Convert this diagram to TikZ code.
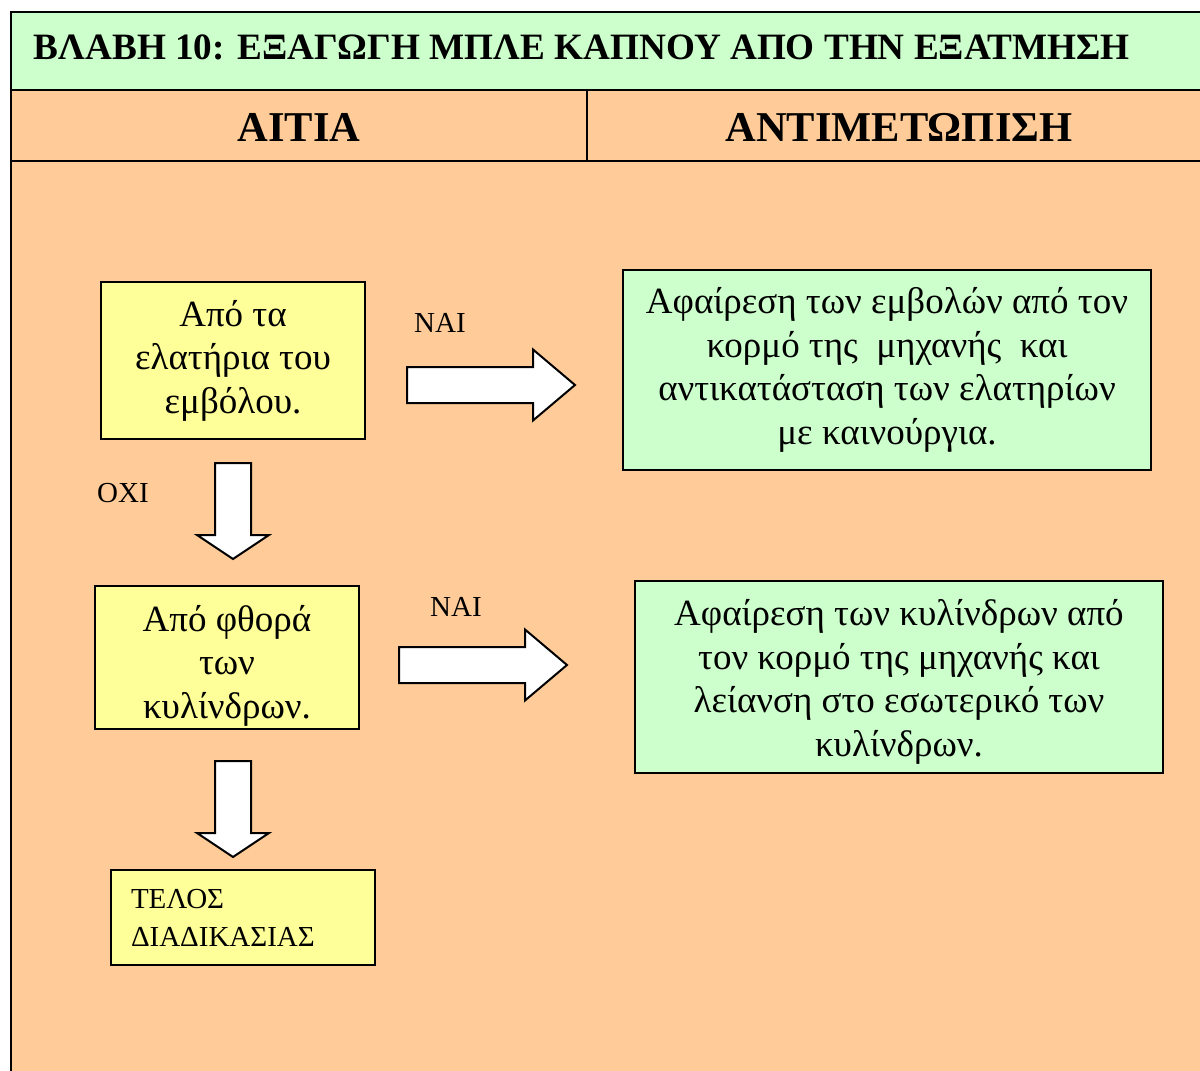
\documentclass[tikz,border=0pt]{standalone}
\usepackage{fontspec}
\setmainfont{Liberation Serif}
\definecolor{titlegreen}{HTML}{CCFFCC}
\definecolor{bodyorange}{HTML}{FFCC99}
\definecolor{causeyellow}{HTML}{FFFF99}

\begin{document}
\begin{tikzpicture}[x=1pt, y=-1pt, line width=2pt,
	cause/.style={draw, fill=causeyellow, minimum width=264pt, align=center, inner sep=0pt, font=\fontsize{37}{43.5}\selectfont},
	remedy/.style={draw, fill=titlegreen, minimum width=528pt, align=center, inner sep=0pt, font=\fontsize{37}{43.5}\selectfont},
	tag/.style={inner sep=0pt, font=\fontsize{29}{34}\selectfont},
	head/.style={inner sep=0pt, font=\bfseries\fontsize{42.5}{48}\selectfont},
	rarrow/.pic={\filldraw[fill=white] (0,-18) -- (126,-18) -- (126,-35.5) -- (168,0) -- (126,35.5) -- (126,18) -- (0,18) -- cycle;},
	darrow/.pic={\filldraw[fill=white] (-18,0) -- (-18,72) -- (-36,72) -- (0,96) -- (36,72) -- (18,72) -- (18,0) -- cycle;}]
	\useasboundingbox (0,0) rectangle (1200,1071);
	\clip (0,0) rectangle (1200,1071);

	\fill[titlegreen] (11,12) rectangle (1215,90);
	\fill[bodyorange] (11,90) rectangle (1215,1090);
	\draw (1215,12) -- (11,12) -- (11,1090);
	\draw (11,90) -- (1215,90);
	\draw (11,161) -- (1215,161);
	\draw (587,90) -- (587,161);

	\node[anchor=west, inner sep=0pt, font=\bfseries\fontsize{37.2}{44}\selectfont] (title) at (33,47) {ΒΛΑΒΗ 10: ΕΞΑΓΩΓΗ ΜΠΛΕ ΚΑΠΝΟΥ ΑΠΟ ΤΗΝ ΕΞΑΤΜΗΣΗ};
	\node[head] (cause) at (299,127) {ΑΙΤΙΑ};
	\node[head] (remedy) at (899,127) {ΑΝΤΙΜΕΤΩΠΙΣΗ};

	\node[cause, minimum height=157pt] (c1) at (233,360.5) {Από τα\\ελατήρια του\\εμβόλου.};
	\node[cause, minimum height=143pt] (c2) at (227,657.5) {};
	\node[cause, draw=none, fill=none, minimum height=0pt] (c2text) at ([yshift=-8pt]c2.center) {Από φθορά\\των\\κυλίνδρων.};
	\node[cause, minimum height=95pt, align=left, text width=224pt, font=\fontsize{29}{38}\selectfont] (end) at (243,917.5) {ΤΕΛΟΣ\\ΔΙΑΔΙΚΑΣΙΑΣ};

	\node[remedy, minimum height=200pt] (r1) at (887,370) {Αφαίρεση των εμβολών από τον\\κορμό της~ μηχανής~ και\\αντικατάσταση των ελατηρίων\\με καινούργια.};
	\node[remedy, minimum height=192pt] (r2) at (899,677) {};
	\node[remedy, draw=none, fill=none, minimum height=0pt] (r2text) at ([yshift=-5pt]r2.center) {Αφαίρεση των κυλίνδρων από\\τον κορμό της μηχανής και\\λείανση στο εσωτερικό των\\κυλίνδρων.};

	\node[tag] (yes1) at (440,323) {ΝΑΙ};
	\node[tag] (yes2) at (456,607) {ΝΑΙ};
	\node[tag] (no1) at (123,493) {ΟΧΙ};

	\pic at (407,385) {rarrow};
	\pic at (399,665) {rarrow};
	\pic at (233,463) {darrow};
	\pic at (233,761) {darrow};
\end{tikzpicture}
\end{document}
